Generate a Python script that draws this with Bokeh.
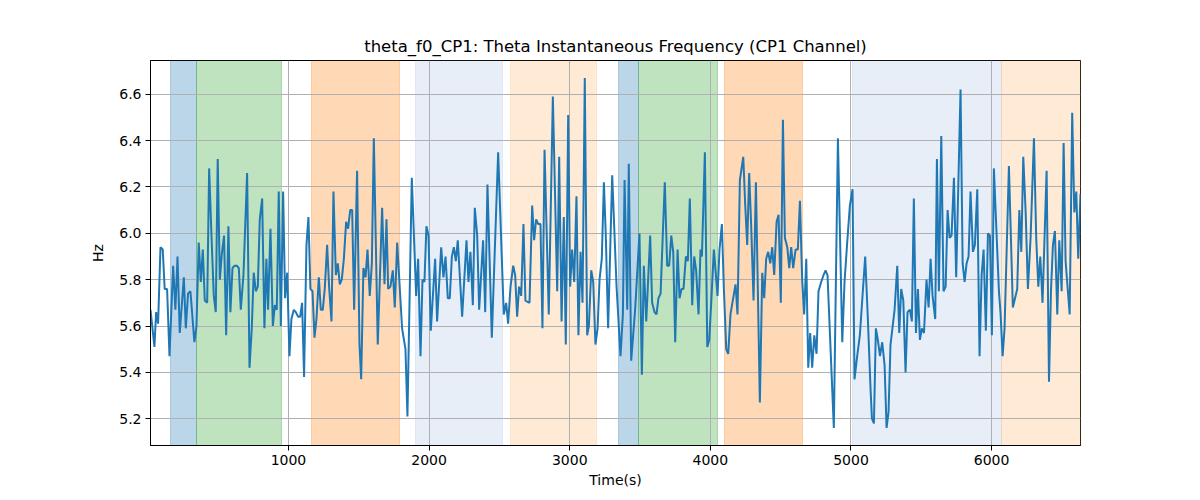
import numpy as np
from bokeh.embed import file_html
from bokeh.models import ColumnDataSource, FixedTicker, PrintfTickFormatter, Range1d
from bokeh.plotting import figure
from bokeh.resources import INLINE

TITLE = "theta_f0_CP1: Theta Instantaneous Frequency (CP1 Channel)"

# time (s) of each sample
times = [
    19, 47, 59, 73, 90, 106, 120, 137, 154, 180,
    196, 211, 227, 256, 270, 286, 303, 331, 346, 362,
    377, 391, 405, 422, 436, 452, 469, 483, 497, 512,
    526, 542, 557, 573, 587, 602, 616, 633, 647, 661,
    680, 706, 723, 739, 753, 768, 782, 796, 813, 829,
    843, 855, 872, 889, 903, 917, 931, 946, 962, 976,
    991, 1007, 1021, 1038, 1052, 1069, 1083, 1097, 1111, 1128,
    1142, 1156, 1171, 1185, 1199, 1216, 1230, 1244, 1258, 1275,
    1289, 1306, 1320, 1337, 1351, 1365, 1379, 1394, 1410, 1424,
    1439, 1453, 1467, 1488, 1505, 1517, 1533, 1548, 1562, 1578,
    1593, 1607,
    1635, 1666, 1683, 1697, 1709, 1725, 1742, 1756, 1773, 1808,
    1832, 1846, 1877, 1908, 1922, 1939, 1953, 1967, 1981, 1996,
    2012, 2043, 2057, 2086, 2102, 2117, 2133, 2147, 2162, 2176,
    2190, 2204, 2235, 2266, 2280, 2294, 2311, 2325, 2342, 2356,
    2384, 2399, 2415, 2446, 2491, 2531, 2548, 2562, 2579, 2598,
    2612, 2626, 2640, 2655, 2671, 2685, 2714, 2733, 2747, 2761,
    2776, 2792, 2806, 2821, 2851, 2880, 2911, 2925, 2942, 2958,
    2972, 2989, 3003, 3017, 3032, 3048, 3062, 3077, 3091, 3107,
    3124, 3136, 3153, 3167, 3183, 3198, 3212, 3228, 3243, 3257,
    3273,
    3302, 3333, 3361, 3378, 3390, 3409, 3420, 3437, 3465, 3496,
    3513, 3527, 3544, 3572, 3586, 3603, 3617, 3631, 3646, 3676,
    3693, 3707, 3722, 3736, 3750, 3767, 3781, 3795, 3809, 3826,
    3840, 3854, 3871, 3885, 3899, 3916, 3930, 3940, 3961, 3978,
    3992, 4006, 4025, 4051, 4065, 4082, 4096, 4113, 4127, 4143,
    4179, 4193, 4210, 4234, 4248, 4262, 4276, 4291, 4307, 4324,
    4352, 4369, 4383, 4397, 4411, 4426, 4440, 4454, 4471, 4485,
    4501, 4516, 4530, 4547, 4561, 4575, 4589, 4606, 4622, 4637,
    4653, 4667, 4682, 4696, 4710, 4724, 4739, 4755, 4769, 4788,
    4805, 4819, 4833, 4878, 4907,
    4938, 4954, 4973, 4992, 5011, 5025, 5044, 5063, 5101, 5120,
    5139, 5149, 5163, 5177, 5191, 5206, 5222, 5239, 5253, 5267,
    5281, 5310, 5329, 5343, 5357, 5372, 5388, 5402, 5419, 5433,
    5447, 5462, 5476, 5490, 5504, 5519, 5537, 5552, 5566, 5580,
    5599, 5611, 5625, 5642, 5658, 5673, 5687, 5701, 5715, 5732,
    5748, 5779, 5794, 5808, 5822, 5836, 5850, 5867, 5881, 5898,
    5914, 5929, 5943, 5959, 5974, 5988, 6002, 6016, 6052, 6064,
    6078, 6092, 6123, 6151, 6182, 6197, 6211, 6225, 6242, 6258,
    6277, 6301, 6317, 6332, 6346, 6362, 6391, 6408, 6422, 6436,
    6450, 6467, 6481, 6498, 6512, 6526, 6555, 6573, 6588, 6602,
    6616, 6632,
]

# instantaneous theta frequency (Hz)
freq = [
    5.67, 5.51, 5.66, 5.61, 5.94, 5.93, 5.76, 5.76, 5.47, 5.86,
    5.67, 5.90, 5.57, 5.81, 5.59, 5.74, 5.75, 5.53, 5.60, 5.96,
    5.79, 5.93, 5.71, 5.70, 6.28, 6.00, 5.73, 5.66, 6.32, 5.80,
    5.91, 5.99, 5.56, 6.03, 5.66, 5.85, 5.86, 5.86, 5.85, 5.67,
    5.82, 6.26, 5.42, 5.59, 5.83, 5.75, 5.77, 6.06, 6.15, 5.59,
    5.89, 5.67, 6.02, 5.60, 5.69, 5.67, 6.18, 5.60, 6.18, 5.72,
    5.83, 5.47, 5.63, 5.67, 5.66, 5.64, 5.64, 5.70, 5.38, 5.95,
    6.07, 5.76, 5.75, 5.55, 5.63, 5.81, 5.67, 5.67, 5.76, 5.95,
    5.77, 5.62, 6.18, 5.82, 5.87, 5.78, 5.80, 5.89, 6.05, 6.02,
    6.10, 6.10, 5.67, 6.27, 5.52, 5.37, 5.85, 5.81, 5.93, 5.73,
    5.87, 6.41,
    5.52, 6.11, 5.78, 6.06, 5.76, 5.77, 5.84, 5.68, 5.96, 5.59,
    5.50, 5.21, 6.24, 5.73, 5.89, 5.47, 5.80, 5.79, 6.03, 5.99,
    5.58, 5.89, 5.62, 5.94, 5.81, 5.90, 5.72, 5.72, 5.90, 5.94,
    5.88, 5.97, 5.64, 5.97, 5.79, 5.92, 5.69, 6.11, 5.99, 5.67,
    5.97, 5.66, 6.21, 5.55, 6.35, 5.65, 5.70, 5.61, 5.77, 5.86,
    5.82, 5.64, 5.77, 5.73, 6.04, 5.71, 5.70, 6.12, 5.97, 6.06,
    6.04, 6.04, 5.59, 6.36, 5.65, 6.59, 5.75, 6.33, 5.62, 6.07,
    5.52, 6.51, 5.77, 5.93, 5.79, 6.16, 5.56, 5.92, 5.70, 6.67,
    5.56, 5.60, 5.84, 5.79, 5.52, 5.59, 5.80, 5.89, 6.22, 5.98,
    5.59,
    6.25, 5.77, 5.47, 5.65, 6.23, 5.67, 6.30, 5.45, 5.67, 6.00,
    5.39, 5.86, 5.62, 5.99, 5.70, 5.66, 5.65, 5.72, 5.74, 6.22,
    5.86, 5.86, 5.99, 5.92, 5.53, 5.93, 5.72, 5.76, 5.76, 5.90,
    5.88, 6.15, 5.69, 5.90, 5.84, 5.65, 5.93, 5.90, 6.35, 5.51,
    5.54, 5.70, 5.93, 5.73, 5.93, 6.04, 5.76, 5.50, 5.48, 5.65,
    5.78, 5.65, 6.23, 6.33, 6.12, 5.95, 6.26, 6.02, 5.71, 6.22,
    5.27, 5.83, 5.72, 5.89, 5.92, 5.87, 5.94, 5.82, 6.05, 6.08,
    5.70, 6.49, 5.98, 5.94, 5.85, 5.94, 5.85, 5.93, 5.93, 6.14,
    5.80, 5.65, 5.89, 5.42, 5.57, 5.42, 5.56, 5.48, 5.75, 5.79,
    5.82, 5.84, 5.82, 5.16, 6.41,
    5.53, 5.79, 5.96, 6.12, 6.19, 5.37, 5.47, 5.56, 5.90, 5.63,
    5.33, 5.20, 5.18, 5.59, 5.54, 5.47, 5.53, 5.43, 5.16, 5.23,
    5.52, 5.67, 5.86, 5.57, 5.76, 5.71, 5.40, 5.66, 5.67, 5.62,
    6.15, 5.57, 5.76, 5.54, 5.59, 5.57, 5.80, 5.68, 5.89, 5.73,
    5.63, 6.32, 5.75, 6.42, 5.75, 5.77, 6.10, 5.98, 5.99, 6.24,
    5.81, 6.62, 5.87, 5.79, 5.87, 5.90, 6.18, 5.92, 5.95, 6.19,
    5.47, 5.82, 5.93, 5.58, 6.00, 5.99, 5.56, 6.28, 5.75, 5.65,
    5.47, 5.59, 6.29, 5.68, 5.76, 6.10, 5.92, 6.33, 6.09, 5.76,
    5.98, 6.41, 5.98, 5.77, 5.90, 5.70, 6.27, 5.36, 5.75, 5.95,
    6.01, 5.65, 5.97, 5.75, 6.39, 5.88, 5.65, 6.52, 6.09, 6.18,
    5.89, 6.17,
]

# shaded epochs
span_start = [161, 343, 1164, 1903, 2579, 3349, 3491, 4101, 5009, 6071]
span_end = [343, 948, 1787, 2520, 3188, 3491, 4049, 4653, 6071, 6632]
span_color = [
    "#1f77b4", "#2ca02c", "#ff7f0e", "#aec7e8", "#ffbb78",
    "#1f77b4", "#2ca02c", "#ff7f0e", "#aec7e8", "#ffbb78",
]

x_ticks = [1000, 2000, 3000, 4000, 5000, 6000]
y_ticks = [5.2, 5.4, 5.6, 5.8, 6.0, 6.2, 6.4, 6.6]

FONT = "DejaVu Sans"

lo, hi = min(freq), max(freq)
pad = 0.05 * (hi - lo)

p = figure(
    title=TITLE,
    width=1192,
    height=492,
    x_range=Range1d(min(times), max(times)),
    y_range=Range1d(lo - pad, hi + pad),
    x_axis_label="Time(s)",
    y_axis_label="Hz",
    output_backend="svg",
    toolbar_location=None,
    min_border_left=150,
    min_border_right=112,
    min_border_top=60,
    min_border_bottom=47,
)

spans = ColumnDataSource(dict(x0=span_start, x1=span_end, color=span_color))
p.vstrip(
    x0="x0", x1="x1", source=spans,
    fill_color="color", fill_alpha=0.3,
    line_color="color", line_alpha=0.3, line_width=1,
    level="image",
)

p.line(np.array(times), np.array(freq), color="#1f77b4", line_width=2)

p.xaxis.ticker = FixedTicker(ticks=x_ticks)
p.yaxis.ticker = FixedTicker(ticks=y_ticks)
p.yaxis.formatter = PrintfTickFormatter(format="%.1f")
p.grid.grid_line_color = "#b0b0b0"
p.grid.grid_line_width = 1

p.axis.major_tick_in = 0
p.axis.major_tick_out = 5
p.axis.minor_tick_line_color = None
p.axis.axis_line_color = "black"
p.axis.major_tick_line_color = "black"
p.axis.major_label_text_font = FONT
p.axis.major_label_text_font_size = "14px"
p.axis.major_label_text_color = "black"
p.axis.major_label_standoff = 4
p.axis.axis_label_text_font = FONT
p.axis.axis_label_text_font_size = "14px"
p.axis.axis_label_text_font_style = "normal"
p.axis.axis_label_text_color = "black"
p.xaxis.axis_label_standoff = 4
p.yaxis.axis_label_standoff = 10

p.outline_line_color = "black"
p.outline_line_alpha = 1
p.outline_line_width = 1

p.title.align = "center"
p.title.text_font = FONT
p.title.text_font_size = "16.5px"
p.title.text_font_style = "normal"
p.title.text_color = "black"

open("out.html", "w").write(file_html(p, INLINE))
